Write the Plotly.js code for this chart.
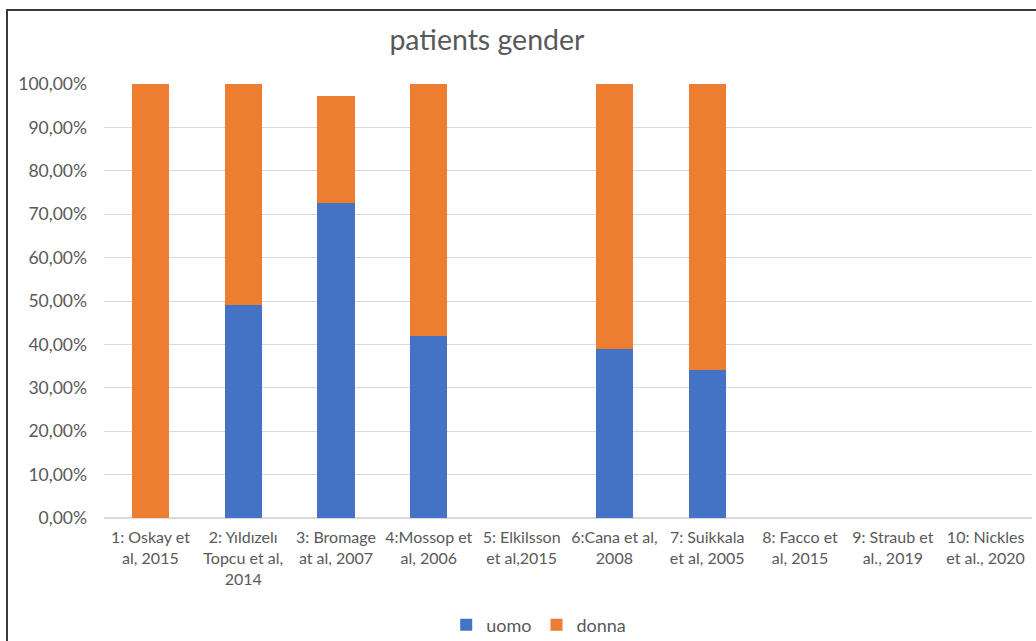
<!DOCTYPE html>
<html>
<head>
<meta charset="utf-8">
<script src="https://cdn.plot.ly/plotly-3.0.1.min.js"></script>
<style>
  html, body { margin: 0; padding: 0; background: #fff; }
  #wrap { position: relative; width: 1036px; height: 641px; overflow: hidden; }
  #chart { width: 1036px; height: 641px; }
  #frame { position: absolute; left: 6px; top: 9px; width: 1040px; height: 640px;
           border-top: 2px solid #3a3a3a; border-left: 2px solid #3a3a3a; pointer-events: none; }
</style>
</head>
<body>
<div id="wrap">
  <div id="chart"></div>
  <div id="frame"></div>
</div>
<script>
const categories = [
  "1: Oskay et<br>al, 2015",
  "2: Yıldızelı<br>Topcu et al,<br>2014",
  "3: Bromage<br>at al, 2007",
  "4:Mossop et<br>al, 2006",
  "5: Elkilsson<br>et al,2015",
  "6:Cana et al,<br>2008",
  "7: Suikkala<br>et al, 2005",
  "8: Facco et<br>al, 2015",
  "9: Straub et<br>al., 2019",
  "10: Nickles<br>et al., 2020"
];
const uomo  = [0.000, 0.491, 0.726, 0.419, null, 0.389, 0.341, null, null, null];
const donna = [1.000, 0.509, 0.246, 0.581, null, 0.611, 0.659, null, null, null];
const yTicks = [0, 0.1, 0.2, 0.3, 0.4, 0.5, 0.6, 0.7, 0.8, 0.9, 1.0];

const FONT = "Lato, 'Open Sans', sans-serif";
const traces = [
  { type: "bar", name: "uomo", x: categories, y: uomo, marker: { color: "#4472C4" }, hoverinfo: "skip" },
  { type: "bar", name: "donna", x: categories, y: donna, marker: { color: "#ED7D31" }, hoverinfo: "skip" }
];
const layout = {
  width: 1036, height: 641,
  barmode: "stack",
  bargap: 0.6,
  separators: ",.",
  paper_bgcolor: "#ffffff",
  plot_bgcolor: "#ffffff",
  margin: { l: 104, r: 4, t: 84, b: 123 },
  font: { family: FONT, color: "#595959", size: 16 },
  title: { text: "patients gender", x: 0.47, xanchor: "center", xref: "container",
           y: 0.937, yanchor: "middle", yref: "container",
           font: { family: FONT, size: 28.5, color: "#595959" } },
  xaxis: { type: "category", showgrid: false, showline: false, ticks: "", ticklabelstandoff: 8,
           tickfont: { family: FONT, size: 16, color: "#595959" }, automargin: false },
  yaxis: { range: [0, 1], tickvals: yTicks, tickformat: ".2%", showgrid: true,
           gridcolor: "#D9D9D9", gridwidth: 1, zeroline: true, zerolinecolor: "#D9D9D9",
           zerolinewidth: 1.5, showline: false, ticks: "", ticklabelstandoff: 16,
           tickfont: { family: FONT, size: 17.5, color: "#595959" }, automargin: false },
  showlegend: true,
  legend: { orientation: "h", xref: "container", yref: "container", x: 0.52, xanchor: "center",
            y: 0.025, yanchor: "middle", font: { family: FONT, size: 18, color: "#595959" },
            traceorder: "normal", itemwidth: 30 }
};
Plotly.newPlot("chart", traces, layout, { staticPlot: true, displayModeBar: false });
</script>
</body>
</html>
